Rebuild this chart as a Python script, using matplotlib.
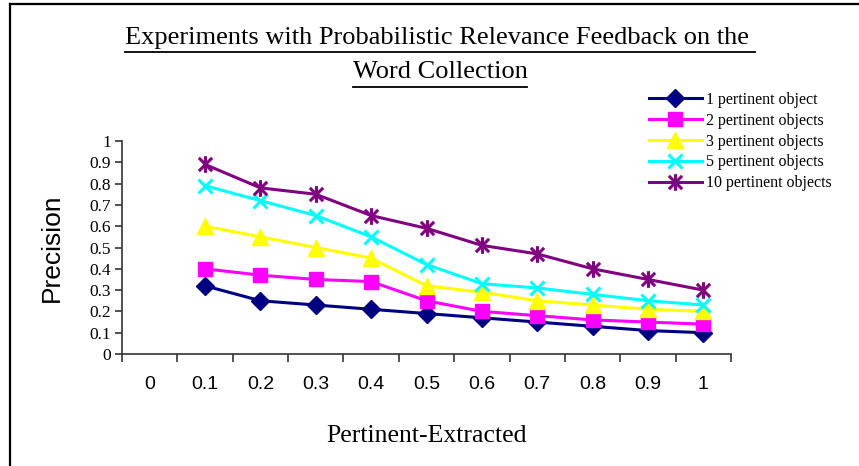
import matplotlib
matplotlib.use("Agg")
import matplotlib.pyplot as plt
from matplotlib.path import Path
from matplotlib.lines import Line2D
import numpy as np

categories = ["0", "0.1", "0.2", "0.3", "0.4", "0.5", "0.6", "0.7", "0.8", "0.9", "1"]
data_categories = ["0.1", "0.2", "0.3", "0.4", "0.5", "0.6", "0.7", "0.8", "0.9", "1"]

s1 = [0.32, 0.25, 0.23, 0.21, 0.19, 0.17, 0.15, 0.13, 0.11, 0.10]
s2 = [0.40, 0.37, 0.35, 0.34, 0.25, 0.20, 0.18, 0.16, 0.15, 0.14]
s3 = [0.60, 0.55, 0.50, 0.45, 0.32, 0.29, 0.25, 0.23, 0.21, 0.20]
s5 = [0.79, 0.72, 0.65, 0.55, 0.42, 0.33, 0.31, 0.28, 0.25, 0.23]
s10 = [0.89, 0.78, 0.75, 0.65, 0.59, 0.51, 0.47, 0.40, 0.35, 0.30]

labels = ["1 pertinent object", "2 pertinent objects", "3 pertinent objects",
          "5 pertinent objects", "10 pertinent objects"]
yticks = [0, 0.1, 0.2, 0.3, 0.4, 0.5, 0.6, 0.7, 0.8, 0.9, 1]
ytick_labels = ["0", "0.1", "0.2", "0.3", "0.4", "0.5", "0.6", "0.7", "0.8", "0.9", "1"]

SERIF = "Liberation Serif"
SANS = "Liberation Sans"

W, H = 859, 466
fig = plt.figure(figsize=(W / 100, H / 100), dpi=100)
fig.patch.set_facecolor("white")

ax = fig.add_axes([122 / W, 1 - 354 / H, (731 - 122) / W, (354 - 141) / H])

asterisk = Path([(0, -1), (0, 1), (-0.8, -0.8), (0.8, 0.8), (-0.8, 0.8), (0.8, -0.8)],
                [Path.MOVETO, Path.LINETO, Path.MOVETO, Path.LINETO, Path.MOVETO, Path.LINETO])

styles = [
    dict(color="#000080", marker="D", ms=9),
    dict(color="#FF00FF", marker="s", ms=10),
    dict(color="#FFFF00", marker="^", ms=11),
    dict(color="#00FFFF", marker="x", ms=10, mew=2.2),
    dict(color="#800080", marker=asterisk, ms=12, mew=2.2),
]

cat_index = {c: i for i, c in enumerate(categories)}
xpos = np.array([cat_index[c] + 0.5 for c in data_categories])

for ser, lab, st in zip([s1, s2, s3, s5, s10], labels, styles):
    ax.plot(xpos, ser, color=st["color"], lw=2.2, marker=st["marker"],
            ms=st["ms"], mec=st["color"], mfc=st["color"],
            mew=st.get("mew", 1), label=lab, clip_on=False)

ax.set_xlim(0, len(categories))
ax.set_ylim(0, 1)

for sp in ["top", "right"]:
    ax.spines[sp].set_visible(False)
for sp in ["left", "bottom"]:
    ax.spines[sp].set_color("#333333")
    ax.spines[sp].set_linewidth(1.2)

ax.set_xticks(np.arange(0, len(categories) + 1))
ax.set_xticklabels([])
ax.set_xticks(np.arange(len(categories)) + 0.5, minor=True)
ax.set_xticklabels(categories, minor=True, fontsize=14, family=SANS)
ax.tick_params(axis="x", which="major", direction="out", length=6, width=1.2, color="#333333")
ax.tick_params(axis="x", which="minor", length=0, pad=16)

ax.set_yticks(yticks)
ax.set_yticklabels(ytick_labels, fontsize=12.5, family=SERIF)
ax.tick_params(axis="y", direction="out", length=5, width=1.2, color="#333333", pad=3)

ax.set_ylabel("Precision", fontsize=19, family=SANS, labelpad=18)
ax.set_xlabel("Pertinent-Extracted", fontsize=18.5, family=SERIF, labelpad=23)

leg = fig.legend(loc="upper left", bbox_to_anchor=(649 / W, 1 - 92 / H),
                 frameon=False, prop={"family": SERIF, "size": 11.5},
                 handlelength=3.3, labelspacing=0.3, handletextpad=0.3,
                 numpoints=1, borderaxespad=0, borderpad=0)

# Title with underline
t1 = fig.text(440 / W, 1 - 38 / H, "Experiments with Probabilistic Relevance Feedback on the ",
              ha="center", va="center", fontsize=19, family=SERIF)
t2 = fig.text(440 / W, 1 - 72 / H, "Word Collection",
              ha="center", va="center", fontsize=19, family=SERIF)
fig.canvas.draw()
r = fig.canvas.get_renderer()
for t, uy in [(t1, 52), (t2, 87)]:
    bb = t.get_window_extent(r)
    fig.add_artist(Line2D([bb.x0 / W, bb.x1 / W], [1 - uy / H, 1 - uy / H],
                          transform=fig.transFigure, color="black", lw=1.3))

# Chart area border (top and left visible)
fig.add_artist(Line2D([10 / W, 10 / W], [0, 1 - 4 / H], transform=fig.transFigure,
                      color="black", lw=1.6))
fig.add_artist(Line2D([10 / W, 1], [1 - 4 / H, 1 - 4 / H], transform=fig.transFigure,
                      color="black", lw=1.6))

fig.savefig("out.png", dpi=100)
